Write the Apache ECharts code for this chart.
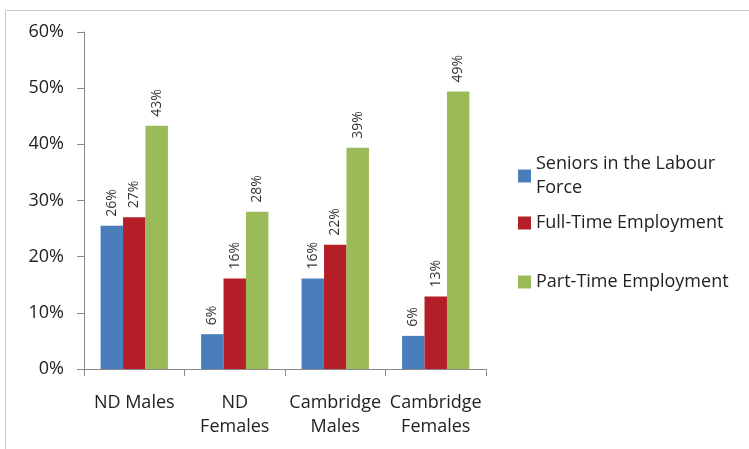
<!DOCTYPE html>
<html><head><meta charset="utf-8">
<script src="https://cdn.jsdelivr.net/npm/echarts@6/dist/echarts.min.js"></script>
<style>html,body{margin:0;padding:0;background:#fff}#c{width:749px;height:449px}</style>
</head><body><div id="c"></div>
<script>
const categories = ['ND Males', 'ND\nFemales', 'Cambridge\nMales', 'Cambridge\nFemales'];
const seriesNames = ['Seniors in the Labour\nForce', 'Full-Time Employment', 'Part-Time Employment'];
const seniors = [25.5, 6.2, 16.1, 5.9];
const fullTime = [27.0, 16.1, 22.1, 12.9];
const partTime = [43.3, 28.0, 39.4, 49.4];
const yTicks = [0, 10, 20, 30, 40, 50, 60];
const colors = ['#4A7EBB', '#B41F27', '#9BBB59'];

const font = '"Open Sans", "Noto Sans", sans-serif';
const chart = echarts.init(document.getElementById('c'));
const labelCfg = {
  show: true, position: 'top', rotate: 90, align: 'left', verticalAlign: 'middle',
  distance: 9, fontSize: 14, color: '#333', fontFamily: font,
  formatter: p => Math.round(p.value) + '%'
};
const mk = (name, data, i) => ({
  name, type: 'bar', data, barGap: '0%', barCategoryGap: '33%',
  itemStyle: { color: colors[i] }, label: labelCfg
});
const legendText = { fontSize: 18, color: '#222', fontFamily: font, lineHeight: 24 };
chart.setOption({
  animation: false,
  textStyle: { fontFamily: font },
  grid: { left: 84, top: 32, width: 402, height: 337, containLabel: false },
  legend: [
    {
      orient: 'vertical', left: 513, top: 147, itemWidth: 13, itemHeight: 13, itemGap: 11,
      icon: 'rect', textStyle: legendText, data: seriesNames.slice(0, 2)
    },
    {
      orient: 'vertical', left: 513, top: 265, itemWidth: 13, itemHeight: 13,
      icon: 'rect', textStyle: legendText, data: seriesNames.slice(2)
    }
  ],
  graphic: [
    { type: 'line', shape: { x1: 5.5, y1: 10.5, x2: 749, y2: 10.5 }, style: { stroke: '#c8c8c8', lineWidth: 1 } },
    { type: 'line', shape: { x1: 5.5, y1: 10.5, x2: 5.5, y2: 449 }, style: { stroke: '#c8c8c8', lineWidth: 1 } }
  ],
  xAxis: {
    type: 'category', data: categories,
    axisLine: { lineStyle: { color: '#8a8a8a' } },
    axisTick: { show: true, length: 7, lineStyle: { color: '#8a8a8a' } },
    axisLabel: { interval: 0, fontSize: 18, color: '#222', margin: 22, lineHeight: 24, fontFamily: font }
  },
  yAxis: {
    type: 'value', min: 0, max: 60, interval: 10,
    splitLine: { show: false },
    axisLine: { show: true, lineStyle: { color: '#8a8a8a' } },
    axisTick: { show: true, length: 7, lineStyle: { color: '#8a8a8a' } },
    axisLabel: { fontSize: 18, color: '#222', margin: 20, fontFamily: font,
      formatter: v => (yTicks.includes(v) ? v + '%' : '') }
  },
  series: [mk(seriesNames[0], seniors, 0), mk(seriesNames[1], fullTime, 1), mk(seriesNames[2], partTime, 2)]
});
</script></body></html>
